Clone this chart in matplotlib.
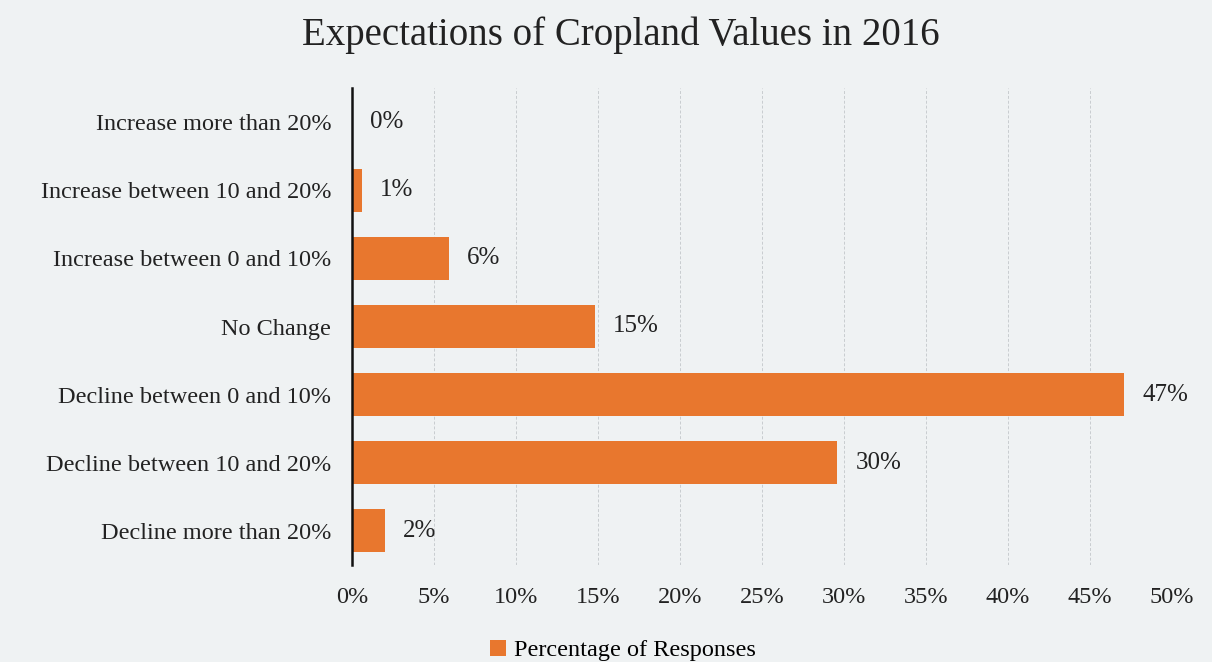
import matplotlib.pyplot as plt
import numpy as np

# Дані
categories = ['Increase more than 20%', 'Increase between 10 and 20%',
              'Increase between 0 and 10%', 'No Change',
              'Decline between 0 and 10%', 'Decline between 10 and 20%',
              'Decline more than 20%']
values = [0.0, 0.6, 5.9, 14.8, 47.1, 29.6, 2.0]
labels = ['0%', '1%', '6%', '15%', '47%', '30%', '2%']
xticks = [0, 5, 10, 15, 20, 25, 30, 35, 40, 45, 50]

bg = '#eff2f3'
bar_color = '#e8772e'
plt.rcParams['font.family'] = ['Liberation Serif', 'DejaVu Serif']

fig = plt.figure(figsize=(12.12, 6.62), dpi=100, facecolor=bg)
ax = fig.add_axes([352 / 1212, 1 - 565 / 662, 820 / 1212, 477 / 662])
ax.set_facecolor(bg)

y = np.arange(len(categories))
ax.barh(y, values, height=0.63, color=bar_color, label='Percentage of Responses', zorder=3)
for yi, v, t in zip(y, values, labels):
    ax.text(v + 1.1, yi, t, va='center', ha='left', fontsize=18, color='#222222')

ax.set_ylim(len(categories) - 0.5, -0.5)
ax.set_xlim(0, 50)
ax.set_yticks(y)
ax.set_yticklabels(categories, fontsize=17.5, color='#222222')
ax.set_xticks(xticks)
ax.set_xticklabels([f'{t}%' for t in xticks], fontsize=17.5, color='#222222')
ax.tick_params(length=0, pad=15, axis='y')
ax.tick_params(length=0, pad=16, axis='x')

ax.grid(axis='x', color='#c8cccf', linestyle=(0, (3, 2)), linewidth=0.7, zorder=0)
for s in ['top', 'right', 'bottom']:
    ax.spines[s].set_visible(False)
ax.spines['left'].set_linewidth(1.8)
ax.spines['left'].set_color('#111111')
ax.spines['left'].set_zorder(4)

fig.suptitle('Expectations of Cropland Values in 2016', fontsize=28, y=0.975, x=0.512, color='#222222')
fig.legend(loc='lower center', bbox_to_anchor=(0.514, -0.032), frameon=False, fontsize=17.5,
           handlelength=0.65, handleheight=0.65, handletextpad=0.3)

fig.savefig('out.png', dpi=100, facecolor=bg)
